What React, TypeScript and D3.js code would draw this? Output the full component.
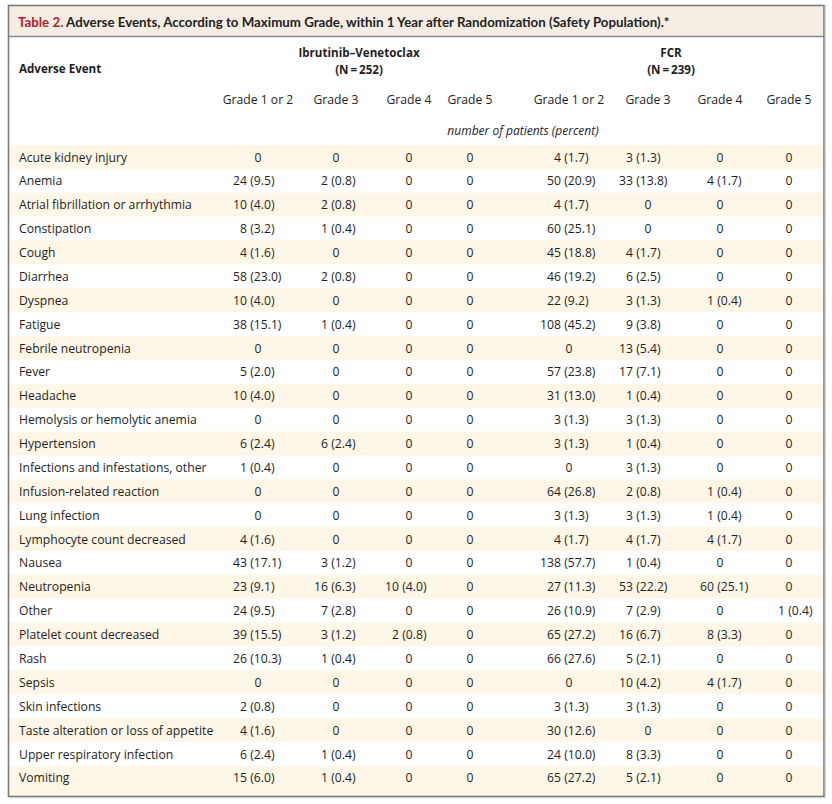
import React from 'react';
import * as d3 from 'd3';

const titleLabel = 'Table 2.';
const titleText = 'Adverse Events, According to Maximum Grade, within 1 Year after Randomization (Safety Population).*';
const firstHeader = 'Adverse Event';
const groupLabels = ['Ibrutinib–Venetoclax', 'FCR'];
const groupNs = ['(N\u2009=\u2009252)', '(N\u2009=\u2009239)'];
const gradeLabels = ['Grade 1 or 2', 'Grade 3', 'Grade 4', 'Grade 5'];
const unitLabel = 'number of patients (percent)';

const events = [
  'Acute kidney injury', 'Anemia', 'Atrial fibrillation or arrhythmia', 'Constipation', 'Cough',
  'Diarrhea', 'Dyspnea', 'Fatigue', 'Febrile neutropenia', 'Fever', 'Headache',
  'Hemolysis or hemolytic anemia', 'Hypertension', 'Infections and infestations, other',
  'Infusion-related reaction', 'Lung infection', 'Lymphocyte count decreased', 'Nausea',
  'Neutropenia', 'Other', 'Platelet count decreased', 'Rash', 'Sepsis', 'Skin infections',
  'Taste alteration or loss of appetite', 'Upper respiratory infection', 'Vomiting',
];

const ivGrade12 = ['0', '24 (9.5)', '10 (4.0)', '8 (3.2)', '4 (1.6)', '58 (23.0)', '10 (4.0)', '38 (15.1)', '0', '5 (2.0)', '10 (4.0)', '0', '6 (2.4)', '1 (0.4)', '0', '0', '4 (1.6)', '43 (17.1)', '23 (9.1)', '24 (9.5)', '39 (15.5)', '26 (10.3)', '0', '2 (0.8)', '4 (1.6)', '6 (2.4)', '15 (6.0)'];
const ivGrade3 = ['0', '2 (0.8)', '2 (0.8)', '1 (0.4)', '0', '2 (0.8)', '0', '1 (0.4)', '0', '0', '0', '0', '6 (2.4)', '0', '0', '0', '0', '3 (1.2)', '16 (6.3)', '7 (2.8)', '3 (1.2)', '1 (0.4)', '0', '0', '0', '1 (0.4)', '1 (0.4)'];
const ivGrade4 = ['0', '0', '0', '0', '0', '0', '0', '0', '0', '0', '0', '0', '0', '0', '0', '0', '0', '0', '10 (4.0)', '0', '2 (0.8)', '0', '0', '0', '0', '0', '0'];
const ivGrade5 = ['0', '0', '0', '0', '0', '0', '0', '0', '0', '0', '0', '0', '0', '0', '0', '0', '0', '0', '0', '0', '0', '0', '0', '0', '0', '0', '0'];
const fcrGrade12 = ['4 (1.7)', '50 (20.9)', '4 (1.7)', '60 (25.1)', '45 (18.8)', '46 (19.2)', '22 (9.2)', '108 (45.2)', '0', '57 (23.8)', '31 (13.0)', '3 (1.3)', '3 (1.3)', '0', '64 (26.8)', '3 (1.3)', '4 (1.7)', '138 (57.7)', '27 (11.3)', '26 (10.9)', '65 (27.2)', '66 (27.6)', '0', '3 (1.3)', '30 (12.6)', '24 (10.0)', '65 (27.2)'];
const fcrGrade3 = ['3 (1.3)', '33 (13.8)', '0', '0', '4 (1.7)', '6 (2.5)', '3 (1.3)', '9 (3.8)', '13 (5.4)', '17 (7.1)', '1 (0.4)', '3 (1.3)', '1 (0.4)', '3 (1.3)', '2 (0.8)', '3 (1.3)', '4 (1.7)', '1 (0.4)', '53 (22.2)', '7 (2.9)', '16 (6.7)', '5 (2.1)', '10 (4.2)', '3 (1.3)', '0', '8 (3.3)', '5 (2.1)'];
const fcrGrade4 = ['0', '4 (1.7)', '0', '0', '0', '0', '1 (0.4)', '0', '0', '0', '0', '0', '0', '0', '1 (0.4)', '1 (0.4)', '4 (1.7)', '0', '60 (25.1)', '0', '8 (3.3)', '0', '4 (1.7)', '0', '0', '0', '0'];
const fcrGrade5 = ['0', '0', '0', '0', '0', '0', '0', '0', '0', '0', '0', '0', '0', '0', '0', '0', '0', '0', '0', '1 (0.4)', '0', '0', '0', '0', '0', '0', '0'];

const columnKeys = ['iv1', 'iv3', 'iv4', 'iv5', 'f1', 'f3', 'f4', 'f5'];
const columnData = [ivGrade12, ivGrade3, ivGrade4, ivGrade5, fcrGrade12, fcrGrade3, fcrGrade4, fcrGrade5];

const W = 832;
const H = 804;
const FONT = '"Open Sans", "Noto Sans", sans-serif';
const TEXT = '#1e1e1e';

export default function App() {
  // column centers (header & zero cells) and number anchors (end of the count)
  const xCenter = d3.scaleOrdinal<string, number>().domain(columnKeys).range([258, 336, 409, 470, 569, 648, 720, 789]);
  const xAnchor = d3.scaleOrdinal<string, number>().domain(columnKeys).range([247, 328, 399, 460, 561, 633, 714, 785]);
  const xGroup = d3.scaleOrdinal<string, number>().domain(groupLabels).range([359, 671]);

  const rowTop = 145;
  const rowH = 23.88;
  const y = d3.scaleBand<string>().domain(events).range([rowTop, rowTop + rowH * events.length]).padding(0);

  const left = 8.5;
  const right = 824;
  const top = 5.5;
  const bottom = 796.5;

  const renderCell = (v: string, key: string, yb: number, i: number) => {
    const m = v.match(/^(\d+)\s*(\(.*\))?$/);
    if (!m || !m[2]) {
      return (
        <text key={key + i} x={xCenter(key)} y={yb} textAnchor="middle">{v}</text>
      );
    }
    return (
      <g key={key + i}>
        <text x={xAnchor(key)} y={yb} textAnchor="end">{m[1]}</text>
        <text x={xAnchor(key)} y={yb} textAnchor="start">{'\u00a0' + m[2]}</text>
      </g>
    );
  };

  return (
    <svg width={W} height={H} style={{ position: 'absolute', left: 0, top: 0, background: '#fff' }}
      fontFamily={FONT} fill={TEXT}>
      {/* title bar */}
      <rect x={left} y={top} width={right - left} height={37 - top} fill="#f5ede4" />
      {/* stripes */}
      {events.map((e, i) => i % 2 === 0 ? (
        <rect key={'s' + e} x={left} y={y(e)!} width={right - left}
          height={i === events.length - 1 ? bottom - (y(e) as number) : y.bandwidth()} fill="#fef7e7" />
      ) : null)}
      <line x1={left} x2={right} y1={36.5} y2={36.5} stroke="#8a8a8a" strokeWidth={1.5} />
      <rect x={left} y={top} width={right - left} height={bottom - top} fill="none" stroke="#7c7c7c" strokeWidth={1.6} />
      <line x1={right + 1.2} x2={right + 1.2} y1={top} y2={bottom + 1} stroke="#c8c8c8" strokeWidth={1} />
      <line x1={left} x2={right + 1.5} y1={bottom + 1.2} y2={bottom + 1.2} stroke="#c8c8c8" strokeWidth={1} />

      <text x={18} y={26.5} fontSize={13.3} fontWeight={700} fontFamily='Lato, "Open Sans", sans-serif'>
        <tspan fill="#b2202f">{titleLabel}</tspan>
        <tspan fill="#222">{' ' + titleText}</tspan>
      </text>

      {/* headers */}
      <text x={19} y={73} fontSize={11.6} fontWeight={700}>{firstHeader}</text>
      {groupLabels.map((g, i) => (
        <g key={g} fontSize={11.6} fontWeight={700} textAnchor="middle">
          <text x={xGroup(g)} y={57}>{g}</text>
          <text x={xGroup(g)} y={74}>{groupNs[i]}</text>
        </g>
      ))}
      {columnKeys.map((k, i) => (
        <text key={'h' + k} x={xCenter(k)} y={103.5} fontSize={12.2} textAnchor="middle">{gradeLabels[i % 4]}</text>
      ))}
      <text x={523} y={135} fontSize={12} fontStyle="italic" textAnchor="middle">{unitLabel}</text>

      {/* body */}
      <g fontSize={12.2}>
        {events.map((e, i) => {
          const yb = (y(e) as number) + 16.5;
          return (
            <g key={e}>
              <text x={19} y={yb}>{e}</text>
              {columnKeys.map((k, c) => renderCell(columnData[c][i], k, yb, i))}
            </g>
          );
        })}
      </g>
    </svg>
  );
}
